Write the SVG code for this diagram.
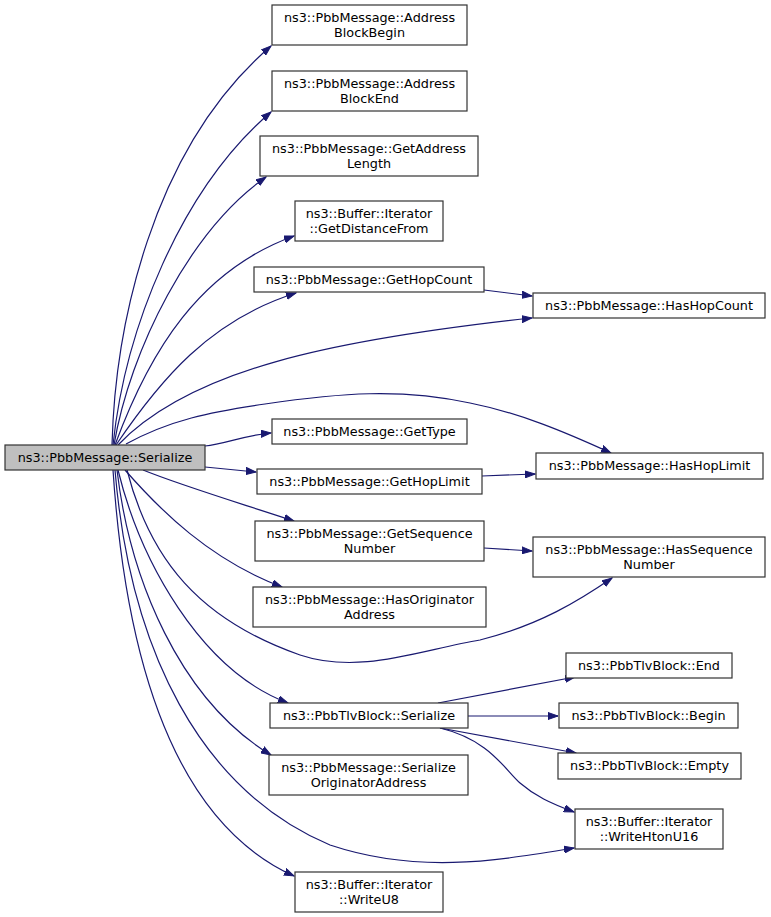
<svg xmlns="http://www.w3.org/2000/svg" width="771" height="917" viewBox="0 0 771 917">
<style>
.n rect{fill:#fff;stroke:#333;stroke-width:1.2}
.r rect{fill:#bfbfbf;stroke:#333;stroke-width:1.2}
text{font-family:"DejaVu Sans",sans-serif;font-size:12.8px;fill:#000;text-anchor:middle}
.e path{fill:none;stroke:#191970;stroke-width:1.2;marker-end:url(#a)}
</style>
<defs>
<marker id="a" markerUnits="userSpaceOnUse" markerWidth="11" markerHeight="8" refX="10" refY="4" orient="auto">
<path d="M0,0.5 L10,4 L0,7.5 z" fill="#191970" stroke="#191970" stroke-width="1"/>
</marker>
</defs>
<rect width="771" height="917" fill="#fff"/>
<g class="e" id="edges">
<path d="M112,445 C115,330 150,150 271,46"/>
<path d="M113,445 C125,330 180,190 271,112"/>
<path d="M114,445 C130,350 190,230 266,177"/>
<path d="M115,445 C150,350 200,270 294,236"/>
<path d="M116,445 C160,380 210,320 296,293"/>
<path d="M118,445 C190,370 330,340 532,318"/>
<path d="M126,444 C170,420 210,412 265,404 C340,393 400,388 470,403 C520,413 565,432 611,453"/>
<path d="M205,446 C225,444 245,435 271,433"/>
<path d="M205,467 L256,472"/>
<path d="M143,470 C180,485 230,500 294,521"/>
<path d="M125,470 C160,510 210,560 282,587"/>
<path d="M127,470 C150,560 200,620 300,655 C360,675 420,650 480,640 C540,625 580,600 612,578"/>
<path d="M118,470 C140,560 200,670 288,703"/>
<path d="M117,470 C130,580 180,700 271,755"/>
<path d="M115,470 C130,650 200,790 330,845 C420,875 500,860 574,848"/>
<path d="M113,470 C125,650 170,820 294,876"/>
<path d="M484,290 L532,296"/>
<path d="M482,476 L535,474"/>
<path d="M484,548 L532,551"/>
<path d="M438,703 L575,677"/>
<path d="M468,716 L558,716"/>
<path d="M440,728 L576,753"/>
<path d="M440,728 C490,740 505,770 520,783 C535,796 550,803 574,812"/>
</g>
<g class="r" id="root"><rect x="5" y="445" width="200" height="25"/><text x="105" y="461.5">ns3::PbbMessage::Serialize</text></g>
<g class="n" id="n1"><rect x="272" y="5" width="195" height="40"/><text x="369.5" y="21.5">ns3::PbbMessage::Address</text><text x="369.5" y="36.5">BlockBegin</text></g>
<g class="n" id="n2"><rect x="272" y="71" width="195" height="40"/><text x="369.5" y="87.5">ns3::PbbMessage::Address</text><text x="369.5" y="102.5">BlockEnd</text></g>
<g class="n" id="n3"><rect x="260" y="136" width="218" height="40"/><text x="369" y="152.5">ns3::PbbMessage::GetAddress</text><text x="369" y="167.5">Length</text></g>
<g class="n" id="n4"><rect x="295" y="201" width="148" height="40"/><text x="369" y="217.5">ns3::Buffer::Iterator</text><text x="369" y="232.5">::GetDistanceFrom</text></g>
<g class="n" id="n5"><rect x="254" y="267" width="230" height="25"/><text x="369" y="283.5">ns3::PbbMessage::GetHopCount</text></g>
<g class="n" id="n6"><rect x="533" y="293" width="232" height="25"/><text x="649" y="309.5">ns3::PbbMessage::HasHopCount</text></g>
<g class="n" id="n7"><rect x="272" y="419" width="195" height="25"/><text x="369.5" y="435.5">ns3::PbbMessage::GetType</text></g>
<g class="n" id="n8"><rect x="257" y="469" width="225" height="25"/><text x="369.5" y="485.5">ns3::PbbMessage::GetHopLimit</text></g>
<g class="n" id="n9"><rect x="536" y="453" width="227" height="26"/><text x="649.5" y="470">ns3::PbbMessage::HasHopLimit</text></g>
<g class="n" id="n10"><rect x="255" y="521" width="229" height="40"/><text x="369.5" y="537.5">ns3::PbbMessage::GetSequence</text><text x="369.5" y="552.5">Number</text></g>
<g class="n" id="n11"><rect x="533" y="537" width="232" height="40"/><text x="649" y="553.5">ns3::PbbMessage::HasSequence</text><text x="649" y="568.5">Number</text></g>
<g class="n" id="n12"><rect x="253" y="587" width="233" height="40"/><text x="369.5" y="603.5">ns3::PbbMessage::HasOriginator</text><text x="369.5" y="618.5">Address</text></g>
<g class="n" id="n13"><rect x="270" y="703" width="198" height="25"/><text x="369" y="719.5">ns3::PbbTlvBlock::Serialize</text></g>
<g class="n" id="n14"><rect x="269" y="755" width="199" height="40"/><text x="368.5" y="771.5">ns3::PbbMessage::Serialize</text><text x="368.5" y="786.5">OriginatorAddress</text></g>
<g class="n" id="n15"><rect x="295" y="872" width="148" height="40"/><text x="369" y="888.5">ns3::Buffer::Iterator</text><text x="369" y="903.5">::WriteU8</text></g>
<g class="n" id="n16"><rect x="566" y="653" width="166" height="25"/><text x="649" y="669.5">ns3::PbbTlvBlock::End</text></g>
<g class="n" id="n17"><rect x="559" y="703" width="179" height="25"/><text x="648.5" y="719.5">ns3::PbbTlvBlock::Begin</text></g>
<g class="n" id="n18"><rect x="558" y="753" width="183" height="26"/><text x="649.5" y="770">ns3::PbbTlvBlock::Empty</text></g>
<g class="n" id="n19"><rect x="575" y="809" width="148" height="40"/><text x="649" y="825.5">ns3::Buffer::Iterator</text><text x="649" y="840.5">::WriteHtonU16</text></g>
</svg>
